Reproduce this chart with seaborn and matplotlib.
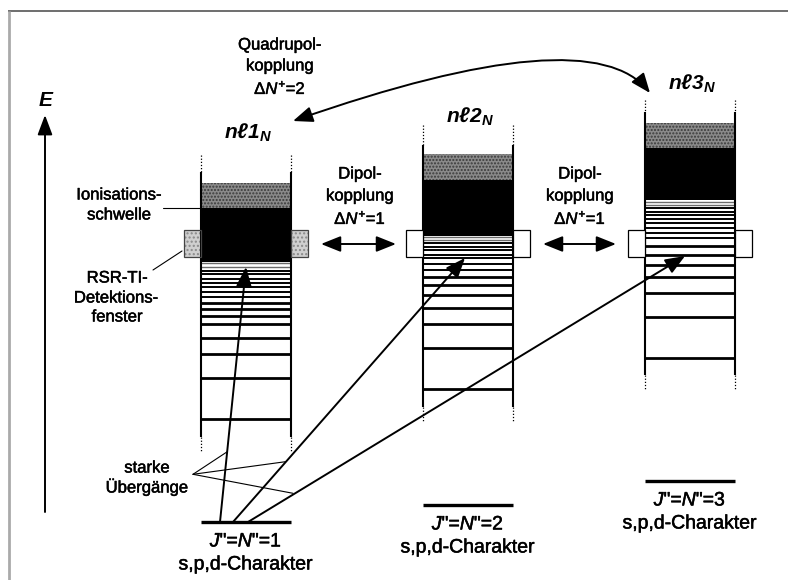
import matplotlib
matplotlib.use("Agg")
import matplotlib.pyplot as plt
import matplotlib.patheffects as pe
import seaborn as sns
from matplotlib.patches import Rectangle, FancyArrowPatch
from matplotlib.path import Path

sns.set_theme(style="white")
plt.rcParams['font.family'] = ['Liberation Sans', 'DejaVu Sans']
plt.rcParams['mathtext.fontset'] = 'custom'
plt.rcParams['mathtext.rm'] = 'Liberation Sans'
plt.rcParams['mathtext.it'] = 'Liberation Sans:italic'
plt.rcParams['mathtext.bf'] = 'Liberation Sans:bold'
plt.rcParams['mathtext.bfit'] = 'Liberation Sans:italic:bold'
plt.rcParams['text.color'] = 'black'

# ---------------- data (schematic; y = pixel-like energy axis, top = high E)
series = ['1', '2', '3']
col_left = [201, 423, 645]
col_right = [291, 513, 735]
solid_top = [172, 145, 112]
solid_bot = [437, 407, 375]
dotted_top = [155, 125, 100]
dotted_bot = [452, 422, 389]
continuum_top = [183, 154, 123]
threshold = [208, 180, 148]
dense_bot = [262, 236, 200]
levels_1 = [262.7, 266.7, 270.7, 274.3, 278.7, 282.7, 286.7, 291.7, 296.7,
            302.7, 309.0, 315.7, 324.3, 338.3, 354.0, 377.7, 418.7]
levels_2 = [236.7, 240.0, 243.3, 246.7, 250.0, 254.5, 258.3, 264.0, 269.5,
            276.5, 285.0, 295.0, 308.3, 324.3, 348.3, 389.3]
levels_3 = [201.7, 205.0, 208.3, 211.7, 215.0, 219.0, 223.3, 227.7, 232.7,
            238.0, 246.0, 255.0, 265.0, 277.3, 293.3, 317.3, 358.3]
levels = [levels_1, levels_2, levels_3]
window_top, window_bot = 229.5, 256.5
ground_y = [522, 505, 481]
ground_labels = ['$\\mathit{J}$"=$\\mathit{N}$"=1',
                 '$\\mathit{J}$"=$\\mathit{N}$"=2',
                 '$\\mathit{J}$"=$\\mathit{N}$"=3']
state_labels = ['$\\mathbfit{n}$' + 'ℓ' + '$\\mathbfit{1}_{\\mathbfit{N}}$',
                '$\\mathbfit{n}$' + 'ℓ' + '$\\mathbfit{2}_{\\mathbfit{N}}$',
                '$\\mathbfit{n}$' + 'ℓ' + '$\\mathbfit{3}_{\\mathbfit{N}}$']
label_y = [133, 117, 84]
trans_start_x = [220, 233, 248]
trans_end = [(246, 267), (465, 258), (685, 256)]

stroke = [pe.withStroke(linewidth=0.35, foreground='black')]

fig = plt.figure(figsize=(7.88, 5.8), dpi=100)
ax = fig.add_axes([0, 0, 1, 1])
ax.set_xlim(0, 788)
ax.set_ylim(580, 0)
ax.axis('off')


def txt(x, y, s, size=12, **kw):
    ax.text(x, y, s, ha='center', va='center', fontsize=size, path_effects=stroke, **kw)


# frame
ax.plot([8, 788], [11, 11], color='#555555', lw=1.2, solid_capstyle='butt')
ax.plot([9, 9], [11, 580], color='#aaaaaa', lw=2.0, solid_capstyle='butt')

for i in range(3):
    xl, xr = col_left[i], col_right[i]
    w = xr - xl
    # continuum (stippled grey)
    ax.add_patch(Rectangle((xl, continuum_top[i]), w, threshold[i] - continuum_top[i],
                           facecolor='#8a8a8a', edgecolor='#3a3a3a', hatch='.....', lw=0, zorder=2))
    # dense Rydberg region (black)
    ax.add_patch(Rectangle((xl, threshold[i]), w, dense_bot[i] - threshold[i],
                           facecolor='black', edgecolor='black', lw=0, zorder=2))
    # levels
    lv = levels[i]
    ax.hlines(lv[:2], xl, xr, colors='#6a6a6a', lw=1.0, zorder=3)
    dense = [y for j, y in enumerate(lv[2:], start=2) if lv[j] - lv[j - 1] < 6]
    sparse = [y for j, y in enumerate(lv[2:], start=2) if lv[j] - lv[j - 1] >= 6]
    ax.hlines(dense, xl, xr, colors='black', lw=1.4, zorder=3)
    ax.hlines(sparse, xl, xr, colors='black', lw=2.0, zorder=3)
    # column walls
    for x in (xl, xr):
        ax.plot([x, x], [solid_top[i], solid_bot[i]], color='black', lw=1.5, zorder=4,
                solid_capstyle='butt')
        ax.plot([x, x], [dotted_top[i], solid_top[i]], color='black', lw=0.9,
                ls=(0, (1, 1.5)), zorder=4)
        ax.plot([x, x], [solid_bot[i], dotted_bot[i]], color='black', lw=0.9,
                ls=(0, (1, 1.5)), zorder=4)
    # detection window
    for x0 in (xl - 17, xr):
        if i == 0:
            ax.add_patch(Rectangle((x0, window_top), 17, window_bot - window_top,
                                   facecolor='#cfcfcf', edgecolor='#8a8a8a', hatch='....',
                                   lw=0, zorder=2))
            ax.add_patch(Rectangle((x0, window_top), 17, window_bot - window_top,
                                   facecolor='none', edgecolor='#444444', lw=0.9, zorder=5))
        else:
            ax.add_patch(Rectangle((x0, window_top), 17, window_bot - window_top,
                                   facecolor='white', edgecolor='black', lw=0.9, zorder=5))
    # state label
    ax.text((xl + xr) / 2 + 2, label_y[i], state_labels[i], ha='center', va='center',
            fontsize=15, fontweight='bold', fontstyle='italic', zorder=6)
    # ground state
    gy = ground_y[i]
    ax.plot([xl, xr], [gy, gy], color='black', lw=2.4, solid_capstyle='butt')
    txt((xl + xr) / 2, gy + 20, ground_labels[i], size=14)
    txt((xl + xr) / 2, gy + 43, 's,p,d-Charakter', size=14)

# transitions
for i in range(3):
    sx = trans_start_x[i]
    ex, ey = trans_end[i]
    ax.add_patch(FancyArrowPatch((sx, ground_y[0]), (ex, ey),
                                 arrowstyle='-|>,head_length=0.8,head_width=0.32',
                                 mutation_scale=15, color='black', lw=1.4,
                                 shrinkA=0, shrinkB=0, zorder=7))

# energy axis
ax.add_patch(FancyArrowPatch((45, 512), (45, 115),
                             arrowstyle='-|>,head_length=0.8,head_width=0.3',
                             mutation_scale=15, color='black', lw=1.4,
                             shrinkA=0, shrinkB=0))
ax.text(46, 100, 'E', ha='center', va='center', fontsize=15, fontweight='bold',
        fontstyle='italic')

# dipole couplings
for cx, (x0, x1) in zip([360, 580], [(321, 396), (543, 616)]):
    ax.add_patch(FancyArrowPatch((x0, 244), (x1, 244),
                                 arrowstyle='<|-|>,head_length=0.8,head_width=0.32',
                                 mutation_scale=15, color='black', lw=1.4,
                                 shrinkA=0, shrinkB=0))
    txt(cx, 174, 'Dipol-')
    txt(cx, 196, 'kopplung')
    txt(cx, 218, 'Δ$\\mathit{N}^{+}$=1')

# quadrupole coupling
qpath = Path([(293, 121), (590, 17), (650, 93)], [Path.MOVETO, Path.CURVE3, Path.CURVE3])
ax.add_patch(FancyArrowPatch(path=qpath,
                             arrowstyle='<|-|>,head_length=0.8,head_width=0.32',
                             mutation_scale=15, color='black', lw=1.4))
txt(280, 45, 'Quadrupol-')
txt(280, 66, 'kopplung')
txt(280, 88, 'Δ$\\mathit{N}^{+}$=2')

# annotations left
txt(119, 195, 'Ionisations-')
txt(119, 215, 'schwelle')
ax.plot([163, 201], [207.7, 207.7], color='black', lw=0.8)

txt(117, 278, 'RSR-TI-')
txt(116, 298, 'Detektions-')
txt(117, 317, 'fenster')
ax.plot([153, 182], [270, 251], color='black', lw=0.8)

txt(147, 468, 'starke')
txt(147, 487, 'Übergänge')
for px, py in [(227.3, 451.7), (285.5, 461.7), (293, 493.3)]:
    ax.plot([193, px], [474.3, py], color='black', lw=0.8)

fig.savefig('out.png', dpi=100)
